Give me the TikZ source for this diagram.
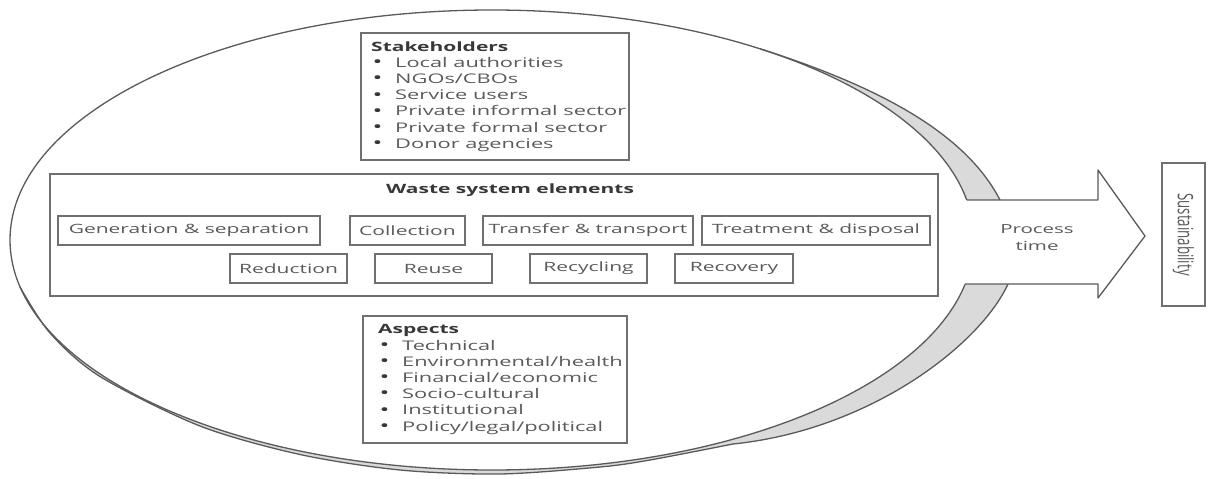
\documentclass[tikz,border=0pt]{standalone}
\usepackage{fontspec}
\setmainfont{Open Sans}[FakeStretch=1.64]
\newfontfamily\plainfont{Open Sans}
\definecolor{linegray}{HTML}{707070}
\definecolor{txtgray}{HTML}{5A5A5A}
\definecolor{headgray}{HTML}{383838}
\definecolor{bandgray}{HTML}{DADADA}
\definecolor{edgegray}{HTML}{5A5A5A}
\newcommand{\bul}{\hspace*{1.5pt}\makebox[22.5pt][l]{\raisebox{-0.3pt}{\color{headgray}\fontsize{16}{16}\selectfont\textbullet}}}
\begin{document}
\begin{tikzpicture}[x=1pt,y=-1pt,
  edge/.style={draw=edgegray, line width=1.3pt, line join=round},
  box/.style={draw=linegray, line width=1.4pt, inner sep=0pt, text=txtgray,
    font=\fontsize{12.8}{16}\selectfont},
  listtext/.style={align=left, inner sep=0pt, anchor=west, text=txtgray,
    font=\fontsize{13.3}{16.2}\selectfont},
  head/.style={text=headgray, font=\bfseries\fontsize{12.8}{16}\selectfont}]
\useasboundingbox (0,0) rectangle (1208,479);
% gray band behind the ellipse
\fill[bandgray]
  (760,48.8) .. controls (890,90) and (968,138) .. (1000,200)
  -- (1008,284) .. controls (980,345) and (870,430) .. (733,444)
  -- plot[smooth] coordinates {(733,444) (650,460) (600,467) (500,474) (400,470) (300,454.5) (200,426) (100,376.5) (50,333) (20,287)}
  -- cycle;
% main ellipse
\fill[white] (492,240) ellipse [x radius=482pt, y radius=230pt];
\draw[edge] (492,240) ellipse [x radius=482pt, y radius=230pt];
% outer edge of band
\draw[edge] (760,48.8) .. controls (890,90) and (968,138) .. (1000,200);
\draw[edge] (1008,284) .. controls (980,345) and (870,430) .. (733,444);
\draw[edge] plot[smooth] coordinates {(733,444) (650,460) (600,467) (500,474) (400,470) (300,454.5) (200,426) (100,376.5) (50,333) (20,287)};
% process arrow
\fill[white] (955,200) -- (1098,200) -- (1098,170) -- (1145,236) -- (1098,298) -- (1098,284) -- (955,284) -- cycle;
\draw[edge] (966.7,200) -- (1098,200) -- (1098,170) -- (1145,236) -- (1098,298) -- (1098,284) -- (965,284);
\node[text=txtgray, align=center, font=\fontsize{12.5}{17}\selectfont] (proc) at (1037,238) {Process\\time};
% sustainability
\node[box, rotate=-90, minimum width=143pt, minimum height=43pt] (sust) at (1183.5,234.5)
  {\scalebox{1}[1.6]{\plainfont\fontsize{13.3}{16}\selectfont Sustainability}};
% stakeholders
\node[box, minimum width=268pt, minimum height=127pt] (stake) at (495,96.5) {};
\node[listtext] (staketext) at (371,96.5)
  {{\bfseries\color{headgray}\fontsize{12.8}{16.2}\selectfont Stakeholders}\\
   \bul Local authorities\\
   \bul NGOs/CBOs\\
   \bul Service users\\
   \bul Private informal sector\\
   \bul Private formal sector\\
   \bul Donor agencies};
% aspects
\node[box, minimum width=264pt, minimum height=127pt] (asp) at (495,379.5) {};
\node[listtext] (asptext) at (378,379.5)
  {{\bfseries\color{headgray}\fontsize{12.8}{16.2}\selectfont Aspects}\\
   \bul Technical\\
   \bul Environmental/health\\
   \bul Financial/economic\\
   \bul Socio-cultural\\
   \bul Institutional\\
   \bul Policy/legal/political};
% waste system elements
\node[box, minimum width=888pt, minimum height=122pt] (waste) at (494,235) {};
\node[head] (wtitle) at (510,190) {Waste system elements};
\node[box, minimum width=262pt, minimum height=29pt] (gen) at (189,230.5) {Generation \& separation};
\node[box, minimum width=115pt, minimum height=29pt] (col) at (407.5,230.5) {Collection};
\node[box, minimum width=210pt, minimum height=29pt] (tra) at (588,230.5) {Transfer \& transport};
\node[box, minimum width=228pt, minimum height=29pt] (tre) at (816,230.5) {Treatment \& disposal};
\node[box, minimum width=117pt, minimum height=29pt] (red) at (288.5,268.5) {Reduction};
\node[box, minimum width=117pt, minimum height=29pt] (reu) at (433.5,268.5) {Reuse};
\node[box, minimum width=117pt, minimum height=29pt] (rec) at (588.5,268.5) {Recycling};
\node[box, minimum width=118pt, minimum height=29pt] (rev) at (734,268.5) {Recovery};
\end{tikzpicture}
\end{document}
